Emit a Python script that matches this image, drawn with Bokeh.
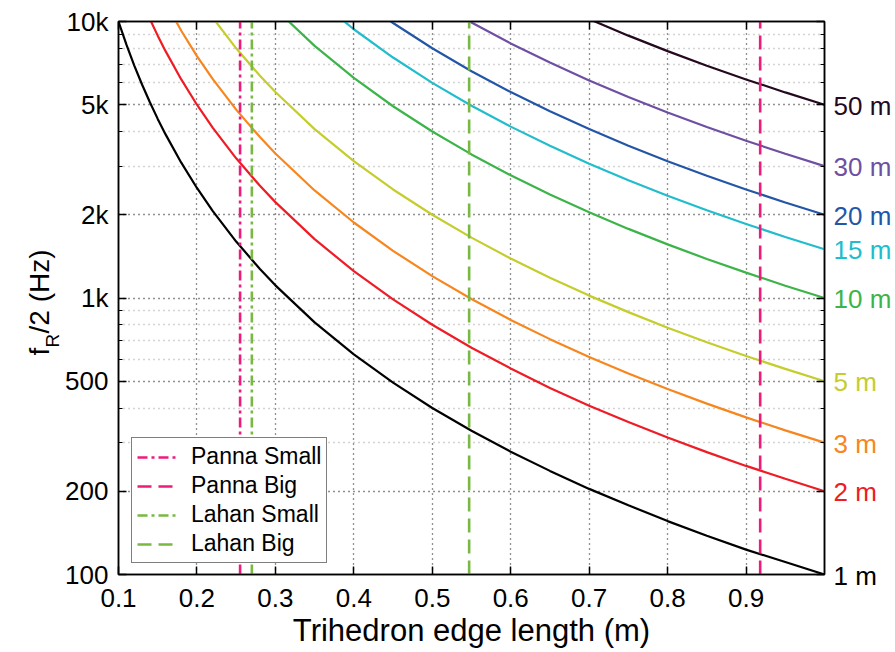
import numpy as np
from bokeh.plotting import figure
from bokeh.models import (FixedTicker, LinearAxis, LogAxis, Legend, LegendItem,
                          CustomLabelingPolicy)
from bokeh.core.properties import value
from bokeh.embed import file_html
from bokeh.resources import INLINE

# ---------------- data ----------------
edge_length = [0.10, 0.11, 0.12, 0.13, 0.14, 0.15, 0.16, 0.18, 0.20, 0.22, 0.25, 0.28, 0.30,
               0.35, 0.40, 0.45, 0.50, 0.55, 0.60, 0.65, 0.70, 0.75, 0.80, 0.85, 0.90, 0.95, 1.00]

f_1m = [10000, 8264, 6944, 5917, 5102, 4444, 3906, 3086, 2500, 2066, 1600, 1276, 1111,
        816, 625, 494, 400, 331, 278, 237, 204, 178, 156, 138, 123, 111, 100]
f_2m = [20000, 16529, 13889, 11834, 10204, 8889, 7813, 6173, 5000, 4132, 3200, 2551, 2222,
        1633, 1250, 988, 800, 661, 556, 473, 408, 356, 313, 277, 247, 222, 200]
f_3m = [None, None, 20833, 17751, 15306, 13333, 11719, 9259, 7500, 6198, 4800, 3827, 3333,
        2449, 1875, 1481, 1200, 992, 833, 710, 612, 533, 469, 415, 370, 332, 300]
f_5m = [None, None, None, None, None, None, 19531, 15432, 12500, 10331, 8000, 6378, 5556,
        4082, 3125, 2469, 2000, 1653, 1389, 1183, 1020, 889, 781, 692, 617, 554, 500]
f_10m = [None, None, None, None, None, None, None, None, None, None, None, None, 11111,
         8163, 6250, 4938, 4000, 3306, 2778, 2367, 2041, 1778, 1563, 1384, 1235, 1108, 1000]
f_15m = [None, None, None, None, None, None, None, None, None, None, None, None, None,
         12245, 9375, 7407, 6000, 4959, 4167, 3550, 3061, 2667, 2344, 2076, 1852, 1662, 1500]
f_20m = [None, None, None, None, None, None, None, None, None, None, None, None, None,
         None, 12500, 9877, 8000, 6612, 5556, 4734, 4082, 3556, 3125, 2768, 2469, 2216, 2000]
f_30m = [None, None, None, None, None, None, None, None, None, None, None, None, None,
         None, None, None, 12000, 9917, 8333, 7101, 6122, 5333, 4688, 4152, 3704, 3324, 3000]
f_50m = [None, None, None, None, None, None, None, None, None, None, None, None, None,
         None, None, None, None, None, None, 11834, 10204, 8889, 7813, 6920, 6173, 5540, 5000]

range_labels = ["1 m", "2 m", "3 m", "5 m", "10 m", "15 m", "20 m", "30 m", "50 m"]
range_end_values = [100, 200, 300, 500, 1000, 1500, 2000, 3000, 5000]
series = [f_1m, f_2m, f_3m, f_5m, f_10m, f_15m, f_20m, f_30m, f_50m]
colors = ["#000000", "#ee1c25", "#f7861e", "#c5cd2d", "#3cb44a",
          "#22bdcc", "#2456a8", "#6f4fa2", "#24091f"]

site_names = ["Panna Small", "Panna Big", "Lahan Small", "Lahan Big"]
site_edges = [0.255, 0.918, 0.270, 0.547]
site_colors = ["#ee1b7b", "#ee1b7b", "#78b843", "#78b843"]
site_dashes = ["10 4 3 4", "14 7", "10 4 3 4", "14 7"]

x_ticks = [0.1, 0.2, 0.3, 0.4, 0.5, 0.6, 0.7, 0.8, 0.9]
y_ticks = [100, 200, 500, 1000, 2000, 5000, 10000]
y_tick_labels = ["100", "200", "500", "1k", "2k", "5k", "10k"]
y_minor = [300, 400, 600, 700, 800, 900, 3000, 4000, 6000, 7000, 8000, 9000]

X_MIN, X_MAX = 0.1, 1.0
Y_MIN, Y_MAX = 100, 10000

FONT = "Liberation Sans"
FRAME_W, FRAME_H = 706, 553
LEFT, TOP = 118, 21

p = figure(frame_width=FRAME_W, frame_height=FRAME_H,
           x_range=(X_MIN, X_MAX), y_range=(Y_MIN, Y_MAX), y_axis_type="log",
           output_backend="svg", toolbar_location=None,
           min_border_left=LEFT, min_border_right=71,
           min_border_top=TOP, min_border_bottom=78)
p.background_fill_color = "white"
p.border_fill_color = "white"
p.outline_line_color = "black"
p.outline_line_width = 1.5

# axes
p.xaxis.ticker = FixedTicker(ticks=x_ticks)
p.yaxis.ticker = FixedTicker(ticks=y_ticks, minor_ticks=y_minor)
p.yaxis.major_label_overrides = {t: l for t, l in zip(y_ticks, y_tick_labels)}
p.xaxis.major_label_overrides = {t: f"{t:.1f}" for t in x_ticks}
for ax in (p.xaxis[0], p.yaxis[0]):
    ax.major_tick_in = 8
    ax.major_tick_out = 0
    ax.minor_tick_in = 4
    ax.minor_tick_out = 0
    ax.axis_line_width = 1.5
    ax.major_tick_line_width = 1.5
    ax.major_label_text_font = FONT
    ax.major_label_text_font_size = "26px"
    ax.major_label_text_color = "black"
p.xaxis.major_label_standoff = 14
p.yaxis.major_label_standoff = 10
p.xaxis.axis_label = "Trihedron edge length (m)"
p.xaxis.axis_label_text_font = FONT
p.xaxis.axis_label_text_font_size = "31px"
p.xaxis.axis_label_text_font_style = "normal"
p.xaxis.axis_label_text_color = "black"
p.xaxis.axis_label_standoff = 3

# mirrored tick-only axes on top and right (no labels drawn)
hide_all = "for (let i = 0; i < bboxes.length; i++) { indices.unset(i) }\nreturn indices"
top_axis = LinearAxis(ticker=FixedTicker(ticks=x_ticks), major_label_text_font_size="0px",
                      major_label_policy=CustomLabelingPolicy(code=hide_all),
                      major_label_standoff=0, major_tick_in=8, major_tick_out=0,
                      minor_tick_in=0, minor_tick_out=0, axis_line_width=1.5,
                      major_tick_line_width=1.5)
p.add_layout(top_axis, "above")
right_axis = LogAxis(ticker=FixedTicker(ticks=y_ticks, minor_ticks=y_minor),
                     major_label_text_font_size="0px",
                     major_label_policy=CustomLabelingPolicy(code=hide_all),
                     major_label_standoff=0,
                     major_tick_in=8, major_tick_out=0, minor_tick_in=4, minor_tick_out=0,
                     axis_line_width=1.5, major_tick_line_width=1.5)
p.add_layout(right_axis, "right")

# grids
for g in (p.xgrid[0], p.ygrid[0]):
    g.grid_line_color = "#222222"
    g.grid_line_dash = "1 4"
    g.grid_line_width = 1.3
p.ygrid.minor_grid_line_color = "#a8a8a8"
p.ygrid.minor_grid_line_dash = "1 4"
p.ygrid.minor_grid_line_width = 1.3

# curves
x_arr = np.array(edge_length, dtype=float)
for ys, c in zip(series, colors):
    y_arr = np.array([np.nan if v is None else v for v in ys], dtype=float)
    p.line(x_arr, y_arr, line_color=c, line_width=2.2)

# vertical site lines
items = []
for name, xv, c, d in zip(site_names, site_edges, site_colors, site_dashes):
    r = p.line([xv, xv], [Y_MIN, Y_MAX], line_color=c, line_width=2.6, line_dash=d)
    items.append(LegendItem(label=name, renderers=[r]))

legend = Legend(items=items, location=(13, 11))
legend.label_text_font = FONT
legend.label_text_font_size = "23px"
legend.label_text_color = "black"
legend.glyph_width = 42
legend.glyph_height = 20
legend.label_standoff = 12
legend.label_height = 20
legend.spacing = 2
legend.padding = 5
legend.margin = 0
legend.border_line_color = "black"
legend.border_line_width = 1.5
legend.background_fill_color = "white"
legend.background_fill_alpha = 1.0
p.add_layout(legend, "center")

# right-hand range labels (text glyphs drawn at overlay level, outside the frame)
p.text(x=[X_MAX] * len(range_labels), y=range_end_values, text=range_labels,
       x_offset=9, y_offset=1, text_color=colors, text_font=value(FONT),
       text_font_size="26px", text_baseline="middle", text_align="left", level="overlay")

# y axis title f_R/2 (Hz)
def xd(px):
    return X_MIN + (px - LEFT) / FRAME_W * (X_MAX - X_MIN)

def yd(py):
    return 10 ** (np.log10(Y_MAX) - (py - TOP) / (FRAME_H / 2.0))

ylab_parts = ["f", "R", "/2 (Hz)"]
ylab_px = [39, 52, 39]
ylab_py = [355, 347, 333]
ylab_size = ["28px", "19px", "28px"]
p.text(x=[xd(v) for v in ylab_px], y=[yd(v) for v in ylab_py], text=ylab_parts,
       angle=np.pi / 2, text_font=value(FONT), text_font_size=ylab_size,
       text_color="black", text_baseline="alphabetic", text_align="left",
       level="overlay")

open("out.html", "w").write(file_html(p, INLINE))
